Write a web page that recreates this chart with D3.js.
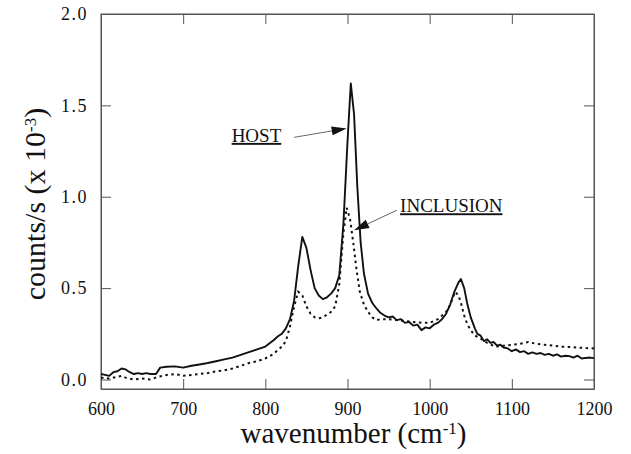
<!DOCTYPE html>
<html>
<head>
<meta charset="utf-8">
<script src="https://cdn.jsdelivr.net/npm/d3@7"></script>
<style>
  body { margin: 0; background: #fff; }
  text { font-family: "Liberation Serif", "DejaVu Serif", serif; fill: #111; }
</style>
</head>
<body>
<script>
// Raman spectra, host vs inclusion
var hostWave = [600, 605, 610, 615, 620, 625, 630, 635, 640, 645, 650, 655, 660, 667, 672, 680, 690, 700, 710, 720,
  730, 740, 750, 760, 770, 780, 790, 800, 810, 815, 820, 825, 830, 835, 840, 845, 850, 855, 860, 865,
  870, 875, 880, 885, 890, 895, 900, 904, 908, 912, 916, 920, 925, 930, 935, 940, 945, 950, 955, 960,
  965, 970, 975, 980, 985, 990, 995, 1000, 1005, 1010, 1015, 1020, 1025, 1030, 1035, 1038, 1042, 1046, 1050, 1055,
  1058, 1062, 1066, 1070, 1074, 1078, 1082, 1086, 1090, 1095, 1100, 1105, 1110, 1115, 1120, 1125, 1130, 1135, 1140, 1145,
  1150, 1155, 1160, 1165, 1170, 1175, 1180, 1185, 1190, 1195, 1200];
var hostCounts = [0.03, 0.025, 0.02, 0.04, 0.045, 0.06, 0.055, 0.04, 0.03, 0.035, 0.03, 0.035, 0.03, 0.03, 0.065, 0.07, 0.072, 0.065, 0.075, 0.082,
  0.09, 0.1, 0.11, 0.12, 0.135, 0.15, 0.165, 0.18, 0.215, 0.235, 0.25, 0.28, 0.33, 0.43, 0.62, 0.78, 0.72, 0.6, 0.5, 0.46,
  0.44, 0.45, 0.47, 0.5, 0.57, 0.85, 1.3, 1.62, 1.45, 1.05, 0.75, 0.58, 0.47, 0.42, 0.39, 0.365, 0.35, 0.34, 0.345, 0.325,
  0.33, 0.31, 0.315, 0.295, 0.3, 0.27, 0.285, 0.28, 0.3, 0.31, 0.33, 0.36, 0.41, 0.48, 0.53, 0.55, 0.5, 0.41, 0.34, 0.28,
  0.25, 0.24, 0.21, 0.22, 0.2, 0.205, 0.185, 0.19, 0.175, 0.17, 0.155, 0.165, 0.15, 0.155, 0.14, 0.148, 0.14, 0.145, 0.135, 0.14,
  0.13, 0.137, 0.125, 0.13, 0.128, 0.12, 0.13, 0.115, 0.118, 0.12, 0.117];

var inclWave = [600, 610, 620, 625, 630, 640, 650, 660, 670, 680, 690, 700, 710, 720, 730, 740, 750, 760, 770, 780,
  790, 800, 810, 820, 825, 830, 835, 840, 845, 850, 855, 860, 865, 870, 875, 880, 885, 890, 895, 899,
  903, 907, 911, 915, 920, 925, 930, 935, 940, 950, 960, 970, 980, 990, 1000, 1010, 1020, 1025, 1031, 1035,
  1038, 1042, 1046, 1050, 1055, 1060, 1070, 1080, 1090, 1100, 1110, 1120, 1130, 1140, 1150, 1160, 1170, 1180, 1190, 1200];
var inclCounts = [0.01, 0.005, 0.015, 0.02, 0.01, 0.0, 0.005, 0.0, 0.015, 0.025, 0.03, 0.02, 0.025, 0.03, 0.035, 0.045, 0.05, 0.06, 0.075, 0.09,
  0.1, 0.115, 0.14, 0.18, 0.21, 0.29, 0.4, 0.48, 0.46, 0.4, 0.36, 0.34, 0.335, 0.34, 0.355, 0.37, 0.4, 0.52, 0.8, 0.94,
  0.88, 0.75, 0.6, 0.48, 0.41, 0.37, 0.34, 0.325, 0.33, 0.33, 0.325, 0.32, 0.315, 0.31, 0.31, 0.33, 0.37, 0.41, 0.48, 0.46,
  0.42, 0.35, 0.3, 0.27, 0.24, 0.23, 0.2, 0.18, 0.185, 0.19, 0.195, 0.205, 0.195, 0.19, 0.185, 0.18, 0.178, 0.175, 0.172, 0.17];

var xTicks = [600, 700, 800, 900, 1000, 1100, 1200];
var yTicks = [0.0, 0.5, 1.0, 1.5, 2.0];

var w = 631, h = 454;
var padL = 101, padT = 14, padR = 594, padB = 389;

var svg = d3.select("body").append("svg")
  .attr("width", w)
  .attr("height", h);

var x = d3.scaleLinear().domain([600, 1200]).range([padL, padR]);
var y = d3.scaleLinear().domain([-0.052, 2.0]).range([padB, padT]);

// axes, ticks pointing inward on all four sides
function styleAxis(g) {
  g.selectAll("path, line").attr("stroke", "#555").attr("stroke-width", 1);
  g.selectAll("text").style("font-family", "Liberation Serif").attr("fill", "#111");
}

svg.append("g")
  .attr("transform", "translate(0," + padB + ")")
  .call(d3.axisBottom(x).tickValues(xTicks).tickSizeInner(-10).tickSizeOuter(0).tickPadding(13)
    .tickFormat(d3.format("d")))
  .call(styleAxis)
  .selectAll("text").style("font-size", "18px");

svg.append("g")
  .attr("transform", "translate(0," + padT + ")")
  .call(d3.axisTop(x).tickValues(xTicks).tickSizeInner(-10).tickSizeOuter(0).tickFormat(""))
  .call(styleAxis);

svg.append("g")
  .attr("transform", "translate(" + padL + ",0)")
  .call(d3.axisLeft(y).tickValues(yTicks).tickSizeInner(-10).tickSizeOuter(0).tickPadding(13)
    .tickFormat(d3.format(".1f")))
  .call(styleAxis)
  .selectAll("text").style("font-size", "18px").style("letter-spacing", "1.5px");

svg.append("g")
  .attr("transform", "translate(" + padR + ",0)")
  .call(d3.axisRight(y).tickValues(yTicks).tickSizeInner(-10).tickSizeOuter(0).tickFormat(""))
  .call(styleAxis);

// close the frame ends
svg.append("rect")
  .attr("x", padL).attr("y", padT)
  .attr("width", padR - padL).attr("height", padB - padT)
  .attr("fill", "none").attr("stroke", "#555").attr("stroke-width", 1);

// spectra
var line = d3.line()
  .x(function(d) { return x(d[0]); })
  .y(function(d) { return y(d[1]); });

svg.append("path")
  .datum(d3.zip(inclWave, inclCounts))
  .attr("d", line)
  .attr("fill", "none")
  .attr("stroke", "#111")
  .attr("stroke-width", 2)
  .attr("stroke-dasharray", "2.5,3.5");

svg.append("path")
  .datum(d3.zip(hostWave, hostCounts))
  .attr("d", line)
  .attr("fill", "none")
  .attr("stroke", "#111")
  .attr("stroke-width", 1.9)
  .attr("stroke-linejoin", "round");

// annotations: label anchor, arrow start, arrow tip in data units
var labels = ["HOST", "INCLUSION"];
var labelPos = [[759, 1.30], [964, 0.915]];
var arrowFrom = [[835, 1.325], [960, 0.926]];
var arrowTo = [[899, 1.374], [908, 0.817]];

labels.forEach(function(lab, i) {
  svg.append("text")
    .attr("x", x(labelPos[i][0]))
    .attr("y", y(labelPos[i][1]))
    .style("font-size", "19px")
    .style("text-decoration", "underline")
    .text(lab);

  var x0 = x(arrowFrom[i][0]), y0 = y(arrowFrom[i][1]);
  var x1 = x(arrowTo[i][0]), y1 = y(arrowTo[i][1]);
  var ang = Math.atan2(y1 - y0, x1 - x0);
  var len = 15, half = 4.5;
  var bx = x1 - len * Math.cos(ang), by = y1 - len * Math.sin(ang);

  svg.append("line")
    .attr("x1", x0).attr("y1", y0)
    .attr("x2", bx).attr("y2", by)
    .attr("stroke", "#666")
    .attr("stroke-width", 1);

  svg.append("path")
    .attr("d", "M" + x1 + "," + y1 +
      "L" + (bx + half * Math.sin(ang)) + "," + (by - half * Math.cos(ang)) +
      "L" + (bx - half * Math.sin(ang)) + "," + (by + half * Math.cos(ang)) + "Z")
    .attr("fill", "#111");
});

// axis titles
var xt = svg.append("text")
  .attr("x", (padL + padR) / 2 + 6)
  .attr("y", 443)
  .attr("text-anchor", "middle")
  .style("font-size", "29px");
xt.append("tspan").text("wavenumber (cm");
xt.append("tspan").attr("baseline-shift", "super").style("font-size", "17px").text("-1");
xt.append("tspan").text(")");

var yt = svg.append("text")
  .attr("transform", "translate(45,204) rotate(-90)")
  .attr("text-anchor", "middle")
  .style("font-size", "30px");
yt.append("tspan").text("counts/s (x 10");
yt.append("tspan").attr("baseline-shift", "super").style("font-size", "17px").text("-3");
yt.append("tspan").text(")");
</script>
</body>
</html>
